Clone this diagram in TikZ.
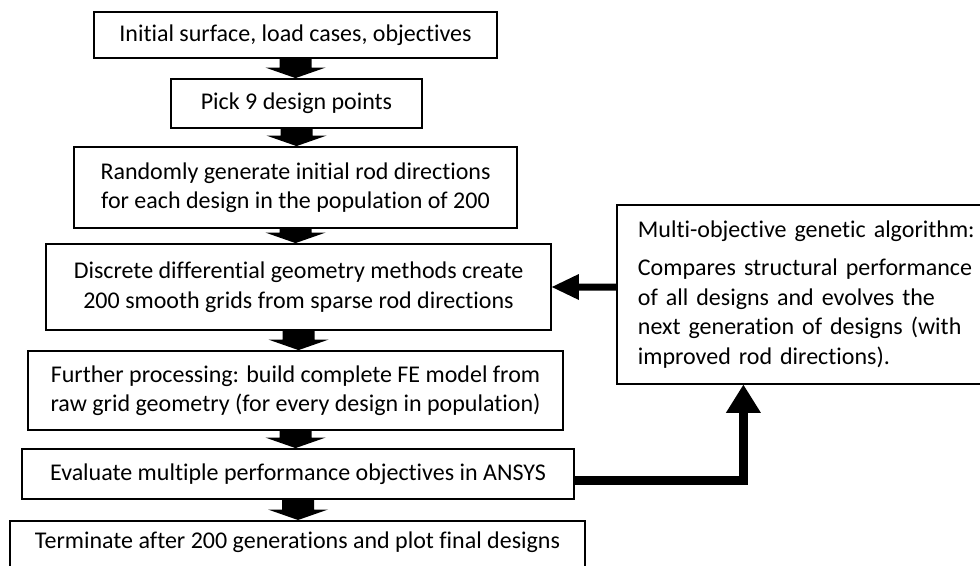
\documentclass[tikz,border=0pt]{standalone}
\usepackage{fontspec}
\setmainfont{Carlito}[Ligatures={NoCommon,NoRare,NoContextual}]
\usetikzlibrary{calc}
\newcommand\blkdown[2]{\fill let \p1=(#1.south), \p2=(#2.north) in (\x1-16pt,\y1) -- (\x1+16pt,\y1) -- (\x1+16pt,\y2+10.5pt) -- (\x1+30pt,\y2+10.5pt) -- (\x1,\y2) -- (\x1-30pt,\y2+10.5pt) -- (\x1-16pt,\y2+10.5pt) -- cycle;}
\begin{document}
\begin{tikzpicture}[x=1pt,y=-1pt,
  box/.style={draw=black,line width=1.8pt,inner sep=0pt,align=center,font=\fontsize{24}{29.5}\selectfont},
  plain/.style={inner sep=0pt,align=center,font=\fontsize{24}{29.5}\selectfont}]
\useasboundingbox (0,0) rectangle (980,565);
\fill[white] (0,0) rectangle (980,565);
\node[box,minimum width=403pt,minimum height=46pt] (b1) at (295.5,35) {Initial surface, load cases, objectives};
\node[box,minimum width=251pt,minimum height=49pt] (b2) at (296.5,103.5) {Pick 9 design points};
\node[box,minimum width=443pt,minimum height=81pt] (b3) at (295.5,187.5) {Randomly generate initial rod directions\\for each design in the population of 200};
\node[box,minimum width=505pt,minimum height=86pt] (b4) at (298.5,287) {Discrete differential geometry methods create\\200 smooth grids from sparse rod directions};
\node[box,minimum width=535pt,minimum height=79pt] (b5) at (295.5,390.5) {Further processing: build complete FE model from\\raw grid geometry (for every design in population)};
\node[box,minimum width=552pt,minimum height=50pt] (b6) at (298,474) {Evaluate multiple performance objectives in ANSYS};
\node[box,minimum width=575pt,minimum height=60pt,anchor=north] (b7) at (297.5,520) {};
\node[plain] (b7t) at (297.5,542) {Terminate after 200 generations and plot final designs};
\node[box,align=left,text width=340pt,inner xsep=21pt,minimum height=179pt,anchor=north west] (ga) at (616,204) {Multi-objective genetic algorithm:\\[8.5pt]Compares structural performance\\of all designs and evolves the\\next generation of designs (with\\improved rod directions).};
\blkdown{b1}{b2}
\blkdown{b2}{b3}
\blkdown{b3}{b4}
\blkdown{b4}{b5}
\blkdown{b5}{b6}
\blkdown{b6}{b7}
% feedback arrow from GA box to b4
\fill let \p1=(b4.east), \p2=(ga.west) in (\x2,\y1+3.5pt) -- (\x1+27pt,\y1+3.5pt) -- (\x1+27pt,\y1+13pt) -- (\x1,\y1) -- (\x1+27pt,\y1-13pt) -- (\x1+27pt,\y1-3.5pt) -- (\x2,\y1-3.5pt) -- cycle;
% elbow from b6 to GA box
\draw[line width=8.5pt] ([yshift=-6.5pt]b6.east) -| ([xshift=-64.5pt,yshift=-27pt]ga.south);
\fill let \p1=([xshift=-64.5pt]ga.south) in (\x1,\y1) -- (\x1-17.5pt,\y1-28pt) -- (\x1+17.5pt,\y1-28pt) -- cycle;
\end{tikzpicture}
\end{document}
